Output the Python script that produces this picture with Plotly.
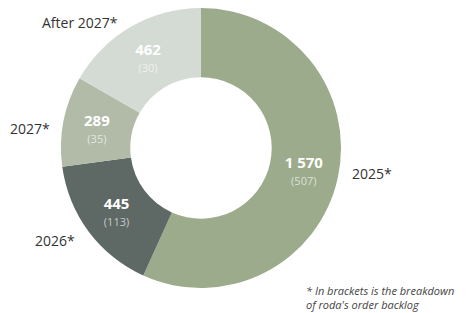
import plotly.graph_objects as go

categories = ["2025*", "2026*", "2027*", "After 2027*"]
values = [1570, 445, 289, 462]
backlog = [507, 113, 35, 30]
value_labels = ["1 570", "445", "289", "462"]
colors = ["#9bab8b", "#5e6864", "#b1bba8", "#d4dad4"]

W, H = 469, 313
OX, OY = 8, 8  # page body offset


def px(x, y):
    return (x - OX) / W, 1 - (y - OY) / H


texts = [
    f"<span style='font-size:15px'><b>{v}</b></span><br>"
    f"<span style='font-size:11px;color:rgba(255,255,255,0.65)'>({b})</span>"
    for v, b in zip(value_labels, backlog)
]

x0, _ = px(61, 0)
x1, _ = px(341, 0)
_, y1 = px(0, 8)
_, y0 = px(0, 288)

fig = go.Figure(go.Pie(
    labels=categories,
    values=values,
    text=texts,
    textinfo="text",
    textposition="inside",
    insidetextorientation="horizontal",
    insidetextfont=dict(family="Open Sans", size=13, color="white"),
    hole=0.505,
    sort=False,
    direction="clockwise",
    rotation=0,
    marker=dict(colors=colors, line=dict(width=0)),
    domain=dict(x=[x0, x1], y=[y0, y1]),
    showlegend=False,
    hoverinfo="label+value",
))

label_pos = [(350, 173), (33, 240), (8, 128), (40, 23)]
for name, (x, y) in zip(categories, label_pos):
    ax, ay = px(x, y)
    fig.add_annotation(x=ax, y=ay, xref="paper", yref="paper",
                       text=name, showarrow=False, xanchor="left", yanchor="middle",
                       font=dict(family="Open Sans", size=14, color="#333333"))

fx, fy = px(304, 281)
fig.add_annotation(x=fx, y=fy, xref="paper", yref="paper",
                   text="<i>* In brackets is the breakdown<br>of roda's order backlog</i>",
                   showarrow=False, xanchor="left", yanchor="top", align="left",
                   font=dict(family="Open Sans", size=11, color="#444444"))

fig.update_layout(width=W, height=H, margin=dict(l=0, r=0, t=0, b=0),
                  paper_bgcolor="white", plot_bgcolor="white")

fig.write_html("out.html")
